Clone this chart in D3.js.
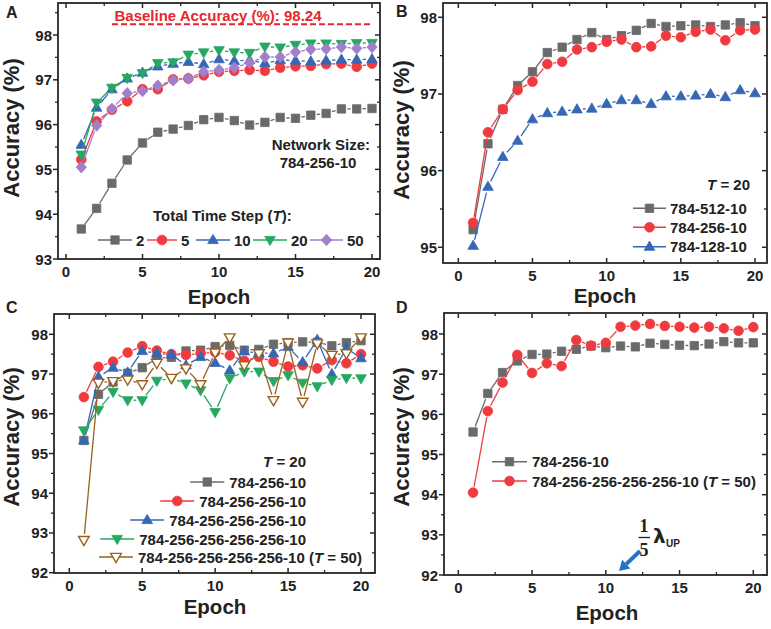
<!DOCTYPE html>
<html><head><meta charset="utf-8">
<script src="https://cdn.jsdelivr.net/npm/d3@7"></script>
<style>
body{margin:0;background:#fff}
svg{display:block}
text{font-family:"Liberation Sans",Arial,sans-serif;font-weight:bold;fill:#222}
</style>
</head><body>
<svg id="chart" width="771" height="629"></svg>
<script>
// ---------------- DATA ----------------
const epochs = [1,2,3,4,5,6,7,8,9,10,11,12,13,14,15,16,17,18,19,20];
const xTickValues = [0,5,10,15,20];
const baselineAccuracy = 98.24;

// Panel A : 784-256-10, different total time steps T
const a_T2  = [93.67,94.13,94.69,95.21,95.59,95.83,95.90,95.98,96.11,96.16,96.09,95.99,96.05,96.16,96.14,96.21,96.25,96.35,96.35,96.36];
const a_T5  = [95.22,96.07,96.33,96.52,96.79,96.79,97.01,97.03,97.10,97.18,97.20,97.22,97.20,97.27,97.30,97.31,97.35,97.36,97.29,97.36];
const a_T10 = [95.55,96.38,96.79,97.03,97.16,97.30,97.36,97.40,97.35,97.46,97.42,97.44,97.37,97.44,97.43,97.41,97.43,97.45,97.45,97.46];
const a_T20 = [95.33,96.49,96.82,97.04,97.15,97.37,97.39,97.56,97.61,97.66,97.61,97.60,97.74,97.72,97.78,97.81,97.81,97.80,97.82,97.82];
const a_T50 = [95.05,95.98,96.35,96.70,96.75,96.87,96.99,97.03,97.18,97.22,97.27,97.38,97.51,97.51,97.62,97.68,97.69,97.73,97.70,97.73];
const a_labels = ["2","5","10","20","50"];
const a_yTicks = [93,94,95,96,97,98];

// Panel B : T = 20, hidden layer size
const b_512 = [95.23,96.35,96.80,97.11,97.29,97.54,97.61,97.71,97.80,97.71,97.76,97.83,97.92,97.88,97.89,97.90,97.88,97.90,97.93,97.89];
const b_256 = [95.32,96.50,96.80,97.05,97.16,97.39,97.42,97.58,97.61,97.68,97.71,97.61,97.62,97.76,97.74,97.81,97.84,97.70,97.83,97.84];
const b_128 = [95.02,95.79,96.18,96.39,96.67,96.75,96.77,96.80,96.81,96.87,96.92,96.92,96.87,96.97,96.97,96.98,97.00,96.96,97.05,97.01];
const b_labels = ["784-512-10","784-256-10","784-128-10"];
const b_yTicks = [95,96,97,98];

// Panel C : depth
const c_1 = [95.33,96.49,96.80,97.02,97.16,97.40,97.42,97.58,97.60,97.69,97.72,97.60,97.62,97.75,97.79,97.81,97.80,97.71,97.79,97.84];
const c_2 = [96.42,97.18,97.31,97.54,97.70,97.59,97.50,97.48,97.52,97.55,97.47,97.33,97.43,97.31,97.19,97.22,97.14,97.35,97.27,97.50];
const c_3 = [95.33,96.93,97.16,97.04,97.58,97.52,97.49,97.22,97.43,97.28,97.09,97.57,97.53,97.52,97.68,97.30,97.86,97.00,97.65,97.40];
const c_4 = [95.58,96.10,96.55,96.34,96.34,96.83,96.89,96.76,96.59,96.04,96.89,97.06,97.06,96.82,96.97,96.78,96.69,96.85,96.90,96.89];
const c_5 = [92.82,96.78,96.82,96.86,96.74,97.28,96.90,97.14,96.74,97.54,97.92,97.22,97.52,96.34,97.79,96.30,97.77,97.48,97.52,97.92];
const c_labels = ["784-256-10","784-256-256-10","784-256-256-256-10","784-256-256-256-256-10","784-256-256-256-256-10 (T = 50)"];
const c_yTicks = [92,93,94,95,96,97,98];

// Panel D
const d_1 = [95.56,96.52,97.04,97.33,97.49,97.50,97.57,97.62,97.70,97.66,97.70,97.68,97.77,97.74,97.72,97.71,97.75,97.81,97.78,97.78];
const d_2 = [94.05,96.08,96.79,97.48,97.03,97.27,97.20,97.85,97.71,97.78,98.18,98.21,98.25,98.20,98.18,98.16,98.18,98.14,98.08,98.17];
const d_labels = ["784-256-10","784-256-256-256-256-10 (T = 50)"];
const d_yTicks = [92,93,94,95,96,97,98];

// ---------------- STYLE ----------------
const COL = {gray:"#6a6a6a", red:"#ef3a40", blue:"#3567b5", green:"#25a862", purple:"#a27fcb", brown:"#9b611d"};
const svg = d3.select("#chart");

function shapePath(shape){
  switch(shape){
    case "square": return "M-4.2,-4.2h8.4v8.4h-8.4Z";
    case "circle": return d3.symbol(d3.symbolCircle, 74)();
    case "up": return "M0,-5.6L5.3,3.6L-5.3,3.6Z";
    case "down": return "M0,5.6L5.3,-3.6L-5.3,-3.6Z";
    case "diamond": return "M0,-5.8L5.2,0L0,5.8L-5.2,0Z";
  }
}
function drawMarker(g, x, y, s){
  g.append("path").attr("d", shapePath(s.shape)).attr("transform",`translate(${x},${y})`)
    .attr("fill", s.hollow ? "#fff" : s.color).attr("stroke", s.color).attr("stroke-width", s.hollow?1.4:0.8);
}

function panel(cfg){
  const g = svg.append("g");
  const x = d3.scaleLinear().domain([0,20]).range(cfg.xr);
  const y = d3.scaleLinear().domain(cfg.yd).range(cfg.yr);
  const b = cfg.box;
  // series
  cfg.series.forEach(s=>{
    const pts = epochs.map((e,i)=>[x(e), y(s.values[i])]);
    const gap = 6;
    for(let i=0;i<pts.length-1;i++){
      const [x1,y1]=pts[i],[x2,y2]=pts[i+1];
      const dx=x2-x1, dy=y2-y1, L=Math.hypot(dx,dy);
      if(L<=2*gap) continue;
      const ux=dx/L, uy=dy/L;
      g.append("line").attr("x1",x1+ux*gap).attr("y1",y1+uy*gap).attr("x2",x2-ux*gap).attr("y2",y2-uy*gap)
        .attr("stroke",s.color).attr("stroke-width",1.3);
    }
    pts.forEach(p=>drawMarker(g,p[0],p[1],s));
  });
  // frame
  g.append("rect").attr("x",b.l).attr("y",b.t).attr("width",b.r-b.l).attr("height",b.b-b.t)
    .attr("fill","none").attr("stroke","#262626").attr("stroke-width",1.8);
  // x ticks (inward bottom & top)
  const xMinor = xTickValues.slice(0,-1).map(v=>v+2.5);
  xTickValues.forEach(v=>{
    g.append("line").attr("x1",x(v)).attr("x2",x(v)).attr("y1",b.b).attr("y2",b.b-5).attr("stroke","#262626").attr("stroke-width",1.5);
    g.append("line").attr("x1",x(v)).attr("x2",x(v)).attr("y1",b.t).attr("y2",b.t+5).attr("stroke","#262626").attr("stroke-width",1.5);
    g.append("text").attr("x",x(v)).attr("y",b.b+18).attr("text-anchor","middle").attr("font-size",15).text(v);
  });
  xMinor.forEach(v=>{
    g.append("line").attr("x1",x(v)).attr("x2",x(v)).attr("y1",b.b).attr("y2",b.b-3).attr("stroke","#262626").attr("stroke-width",1.3);
    g.append("line").attr("x1",x(v)).attr("x2",x(v)).attr("y1",b.t).attr("y2",b.t+3).attr("stroke","#262626").attr("stroke-width",1.3);
  });
  // y ticks (outward left, inward right)
  const yt = cfg.yTicks;
  const yMinor = [];
  for(let i=0;i<yt.length;i++){ yMinor.push(yt[i]+0.5); if(i===0) yMinor.push(yt[i]-0.5); }
  yt.forEach(v=>{
    g.append("line").attr("x1",b.l).attr("x2",b.l-5).attr("y1",y(v)).attr("y2",y(v)).attr("stroke","#262626").attr("stroke-width",1.5);
    g.append("line").attr("x1",b.r).attr("x2",b.r-5).attr("y1",y(v)).attr("y2",y(v)).attr("stroke","#262626").attr("stroke-width",1.5);
    g.append("text").attr("x",b.l-6).attr("y",y(v)+5.5).attr("text-anchor","end").attr("font-size",15).text(v);
  });
  yMinor.forEach(v=>{
    const py=y(v); if(py<b.t+1||py>b.b-1) return;
    g.append("line").attr("x1",b.l).attr("x2",b.l-3).attr("y1",py).attr("y2",py).attr("stroke","#262626").attr("stroke-width",1.3);
    g.append("line").attr("x1",b.r).attr("x2",b.r-3).attr("y1",py).attr("y2",py).attr("stroke","#262626").attr("stroke-width",1.3);
  });
  // titles
  g.append("text").attr("x",cfg.xt[0]).attr("y",cfg.xt[1]).attr("text-anchor","middle").attr("font-size",20.5).text("Epoch");
  g.append("text").attr("transform",`translate(${cfg.yt[0]},${cfg.yt[1]}) rotate(-90)`).attr("text-anchor","middle").attr("font-size",22).text("Accuracy (%)");
  g.append("text").attr("x",cfg.lab[0]).attr("y",cfg.lab[1]).attr("font-size",16).text(cfg.label);
  return {g,x,y};
}

function legendItem(g, x1, x2, yc, s){
  g.append("line").attr("x1",x1).attr("x2",x2).attr("y1",yc).attr("y2",yc).attr("stroke",s.color).attr("stroke-width",1.4);
  drawMarker(g,(x1+x2)/2,yc,s);
}
function tEq(g, x, yb, anchor, val, size){
  const t = g.append("text").attr("x",x).attr("y",yb).attr("text-anchor",anchor).attr("font-size",size||15);
  t.append("tspan").attr("font-style","italic").text("T");
  t.append("tspan").text(" = " + val);
  return t;
}

// ---------------- PANEL A ----------------
const aSeries = [
  {values:a_T2,  color:COL.gray,  shape:"square"},
  {values:a_T5,  color:COL.red,   shape:"circle"},
  {values:a_T10, color:COL.blue,  shape:"up"},
  {values:a_T20, color:COL.green, shape:"down"},
  {values:a_T50, color:COL.purple,shape:"diamond"}
];
const A = panel({box:{l:58,t:3,r:380,b:259}, xr:[66,372], yd:[93,98], yr:[259,35], yTicks:a_yTicks,
  series:aSeries, xt:[219,304], yt:[19,128], lab:[6,18], label:"A"});
A.g.append("line").attr("x1",112).attr("x2",372).attr("y1",A.y(baselineAccuracy)).attr("y2",A.y(baselineAccuracy))
  .attr("stroke","#e8262d").attr("stroke-width",1.8).attr("stroke-dasharray","6,3");
A.g.append("text").attr("x",218).attr("y",21).attr("text-anchor","middle").attr("font-size",15)
  .style("fill","#e8262d").text("Baseline Accuracy (%): " + baselineAccuracy.toFixed(2));
A.g.append("text").attr("x",370).attr("y",150).attr("text-anchor","end").attr("font-size",15).text("Network Size:");
A.g.append("text").attr("x",318).attr("y",168).attr("text-anchor","middle").attr("font-size",15).text("784-256-10");
{
  const t = A.g.append("text").attr("x",153).attr("y",221).attr("font-size",15);
  t.append("tspan").text("Total Time Step (");
  t.append("tspan").attr("font-style","italic").text("T");
  t.append("tspan").text("):");
  const lx = [[98,132],[147,177],[196,230],[253,287],[310,343]];
  aSeries.forEach((s,i)=>{
    legendItem(A.g, lx[i][0], lx[i][1], 240, s);
    A.g.append("text").attr("x",lx[i][1]+4).attr("y",245.5).attr("font-size",15).text(a_labels[i]);
  });
}

// ---------------- PANEL B ----------------
const bSeries = [
  {values:b_512, color:COL.gray, shape:"square"},
  {values:b_256, color:COL.red,  shape:"circle"},
  {values:b_128, color:COL.blue, shape:"up"}
];
const B = panel({box:{l:443,t:3,r:767,b:263}, xr:[458.3,755], yd:[95,98], yr:[247.3,17.3], yTicks:b_yTicks,
  series:bSeries, xt:[605,303], yt:[409,130], lab:[396,17], label:"B"});
tEq(B.g, 750, 190, "end", "20");
bSeries.forEach((s,i)=>{
  const yc = [208.3,227.3,246.7][i];
  legendItem(B.g, 633, 666, yc, s);
  B.g.append("text").attr("x",670).attr("y",yc+5.5).attr("font-size",15).text(b_labels[i]);
});

// ---------------- PANEL C ----------------
const cSeries = [
  {values:c_1, color:COL.gray,  shape:"square"},
  {values:c_2, color:COL.red,   shape:"circle"},
  {values:c_3, color:COL.blue,  shape:"up"},
  {values:c_4, color:COL.green, shape:"down"},
  {values:c_5, color:COL.brown, shape:"down", hollow:true}
];
const C = panel({box:{l:54,t:314,r:375,b:573}, xr:[69.3,361], yd:[92,98], yr:[572.7,334.3], yTicks:c_yTicks,
  series:cSeries, xt:[215,614], yt:[19,437], lab:[6,313], label:"C"});
tEq(C.g, 306, 467, "end", "20");
cSeries.forEach((s,i)=>{
  const yc = [482,501,520,539,557][i];
  let t;
  if(i<4){
    t = C.g.append("text").attr("x",306).attr("y",yc+5.5).attr("text-anchor","end").attr("font-size",15).text(c_labels[i]);
  } else {
    t = C.g.append("text").attr("x",138).attr("y",yc+5.5).attr("font-size",15);
    t.append("tspan").text("784-256-256-256-256-10 (");
    t.append("tspan").attr("font-style","italic").text("T");
    t.append("tspan").text(" = 50)");
  }
  const bb = t.node().getBBox();
  legendItem(C.g, bb.x-39, bb.x-5, yc, s);
});

// ---------------- PANEL D ----------------
const dSeries = [
  {values:d_1, color:COL.gray, shape:"square"},
  {values:d_2, color:COL.red,  shape:"circle"}
];
const D = panel({box:{l:444,t:313,r:767,b:575}, xr:[458.3,753.3], yd:[92,98], yr:[575,334], yTicks:d_yTicks,
  series:dSeries, xt:[607,620], yt:[409,437], lab:[396,313], label:"D"});
dSeries.forEach((s,i)=>{
  const yc = [461.7,481][i];
  legendItem(D.g, 492, 527, yc, s);
  const t = D.g.append("text").attr("x",532).attr("y",yc+5.5).attr("font-size",15);
  if(i===0) t.text(d_labels[0]);
  else { t.append("tspan").text("784-256-256-256-256-10 ("); t.append("tspan").attr("font-style","italic").text("T"); t.append("tspan").text(" = 50)"); }
});
// annotation 1/5 lambda_UP
{
  const g = D.g;
  g.append("text").attr("x",644).attr("y",532).attr("text-anchor","middle").attr("font-size",18)
    .style("font-family","'Liberation Serif','DejaVu Serif',serif").text("1");
  g.append("line").attr("x1",638.5).attr("x2",650).attr("y1",537.5).attr("y2",537.5).attr("stroke","#222").attr("stroke-width",1.3);
  g.append("text").attr("x",644).attr("y",556).attr("text-anchor","middle").attr("font-size",18)
    .style("font-family","'Liberation Serif','DejaVu Serif',serif").text("5");
  g.append("text").attr("x",653).attr("y",543).attr("font-size",20).style("font-family","'DejaVu Sans',sans-serif").text("λ");
  g.append("text").attr("x",666).attr("y",547).attr("font-size",10).text("UP");
  // arrow
  const tail=[640,551], tip=[619,571];
  const dx=tip[0]-tail[0], dy=tip[1]-tail[1], L=Math.hypot(dx,dy), ux=dx/L, uy=dy/L;
  const hl=10, hw=6;
  const bx=tip[0]-ux*hl, by=tip[1]-uy*hl;
  g.append("line").attr("x1",tail[0]).attr("y1",tail[1]).attr("x2",bx).attr("y2",by).attr("stroke","#1f74c6").attr("stroke-width",4);
  g.append("path").attr("d",`M${tip[0]},${tip[1]}L${bx-uy*hw},${by+ux*hw}L${bx+uy*hw},${by-ux*hw}Z`).attr("fill","#1f74c6");
}
</script>
</body></html>
